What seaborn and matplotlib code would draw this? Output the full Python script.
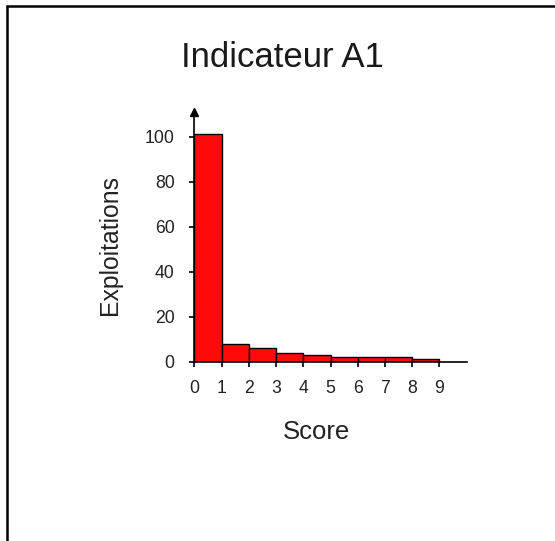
import numpy as np
import pandas as pd
import matplotlib
matplotlib.use("Agg")
import matplotlib.pyplot as plt
import seaborn as sns
from matplotlib.lines import Line2D

scores = [0, 1, 2, 3, 4, 5, 6, 7, 8]
counts = [101, 8, 6, 4, 3, 2, 2, 2, 1]
xticks = [0, 1, 2, 3, 4, 5, 6, 7, 8, 9]
yticks = [0, 20, 40, 60, 80, 100]
title = "Indicateur A1"
xlabel = "Score"
ylabel = "Exploitations"

sns.set_style("white")
plt.rcParams['font.family'] = ['Liberation Sans', 'DejaVu Sans']

df = pd.DataFrame({"score": scores, "count": counts})

fig = plt.figure(figsize=(5.55, 5.41), dpi=100)
ax = fig.add_axes([0.3501, 0.3314, 0.4908, 0.4575])

sns.histplot(data=df, x="score", weights="count", binwidth=1, binrange=(0, 9), ax=ax,
             color="#ff0a0a", alpha=1.0, edgecolor="black", linewidth=1.0)

ax.set_xlim(0, 10)
ax.set_ylim(0, 110)
ax.set_xticks(xticks)
ax.set_yticks(yticks)
ax.tick_params(axis='both', which='both', direction='out', length=3.6, width=1.2,
               color='black', labelsize=12.7, labelcolor='#222222',
               bottom=True, left=True)
ax.tick_params(axis='x', pad=9.5)
ax.tick_params(axis='y', pad=10.5)
for s in ['top', 'right']:
    ax.spines[s].set_visible(False)
for s in ['left', 'bottom']:
    ax.spines[s].set_color('black')
    ax.spines[s].set_linewidth(1.2)

# arrow at top of y axis
ax.plot([0], [1.01], marker='^', color='black', markersize=6,
        transform=ax.transAxes, clip_on=False)

ax.set_xlabel(xlabel, fontsize=18.5, color='#222222', va='baseline')
ax.xaxis.set_label_coords(0.45, -0.312)
ax.set_ylabel(ylabel, fontsize=17.8, color='#222222', va='center')
ax.yaxis.set_label_coords(-0.309, 0.471)

fig.text(282 / 555, 1 - 67 / 541, title, fontsize=25, ha='center', va='baseline',
         color='#1a1a1a')

# figure border (left and top)
fig.add_artist(Line2D([6.5 / 555, 6.5 / 555], [0, 1 - 6 / 541], color='black',
                      linewidth=1.8, transform=fig.transFigure))
fig.add_artist(Line2D([6.5 / 555, 1], [1 - 6 / 541, 1 - 6 / 541], color='black',
                      linewidth=1.8, transform=fig.transFigure))

fig.savefig("out.png", dpi=100)
